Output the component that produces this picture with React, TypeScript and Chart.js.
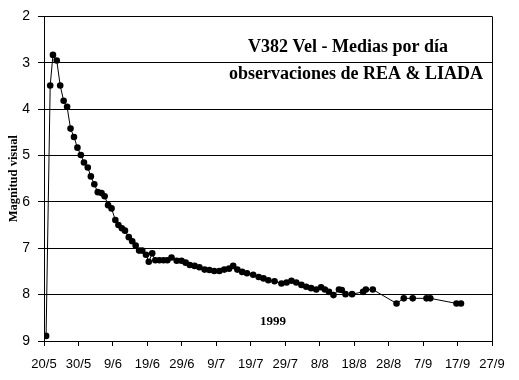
import React, { useEffect, useRef } from "react";
import { Chart, registerables } from "chart.js";

Chart.register(...registerables);

// days after 20 May 1999
const obsDay: number[] = [
  0.6, 1.8, 2.6, 3.7, 4.7, 5.7, 6.7, 7.7, 8.7, 9.7, 10.7, 11.6, 12.7, 13.6, 14.6,
  15.6, 16.7, 17.6, 18.6, 19.6, 20.7, 21.6, 22.6, 23.5, 24.6, 25.6, 26.6, 27.6,
  28.5, 29.6, 30.4, 31.4, 32.3, 33.5, 34.7, 35.8, 37.0, 38.5, 39.9, 41.1, 42.3,
  43.7, 45.1, 46.6, 48.0, 49.4, 50.9, 52.3, 53.7, 54.9, 56.1, 57.5, 58.9, 60.7,
  62.3, 63.7, 65.1, 66.9, 68.9, 70.4, 71.8, 73.2, 74.7, 76.1, 77.5, 79.0, 80.4,
  81.5, 82.7, 84.0, 85.6, 86.4, 87.5, 89.4, 92.6, 93.4, 95.4, 102.3, 104.4,
  107.0, 111.0, 112.1, 119.7, 121.0,
];

const magnitude: number[] = [
  8.89, 3.49, 2.83, 2.95, 3.49, 3.82, 3.95, 4.42, 4.6, 4.83, 4.99, 5.15, 5.26,
  5.45, 5.62, 5.79, 5.81, 5.88, 6.07, 6.14, 6.39, 6.5, 6.57, 6.62, 6.76, 6.85,
  6.94, 7.05, 7.05, 7.14, 7.29, 7.11, 7.26, 7.26, 7.26, 7.26, 7.2, 7.27, 7.27,
  7.31, 7.36, 7.38, 7.41, 7.46, 7.47, 7.49, 7.49, 7.46, 7.44, 7.38, 7.46, 7.51,
  7.54, 7.57, 7.62, 7.65, 7.69, 7.71, 7.76, 7.74, 7.7, 7.74, 7.79, 7.83, 7.86,
  7.89, 7.84, 7.89, 7.94, 8.01, 7.89, 7.9, 7.99, 7.99, 7.94, 7.89, 7.89, 8.19,
  8.08, 8.08, 8.08, 8.08, 8.19, 8.19,
];

const xTickLabels: string[] = [
  "20/5", "30/5", "9/6", "19/6", "29/6", "9/7", "19/7", "29/7", "8/8", "18/8",
  "28/8", "7/9", "17/9", "27/9",
];

const titleLines: string[] = ["V382 Vel - Medias por día", "observaciones de REA & LIADA"];
const yearLabel = "1999";
const yAxisTitle = "Magnitud visual";

const textPlugin = {
  id: "extraText",
  afterDraw(chart: any) {
    const { ctx, chartArea } = chart;
    ctx.save();
    // right border
    ctx.strokeStyle = "#000";
    ctx.lineWidth = 1;
    ctx.beginPath();
    ctx.moveTo(Math.round(chartArea.right) + 0.5, chartArea.top);
    ctx.lineTo(Math.round(chartArea.right) + 0.5, chartArea.bottom);
    ctx.stroke();

    ctx.fillStyle = "#000";
    ctx.textAlign = "center";
    ctx.textBaseline = "alphabetic";
    ctx.font = "bold 18px 'Liberation Serif', serif";
    ctx.fillText(titleLines[0], 348, 52);
    ctx.fillText(titleLines[1], 356, 79);

    ctx.font = "bold 13px 'Liberation Serif', serif";
    ctx.fillText(yearLabel, 273, 325);

    ctx.translate(14, (chartArea.top + chartArea.bottom) / 2);
    ctx.rotate(-Math.PI / 2);
    ctx.textBaseline = "middle";
    ctx.font = "bold 12.5px 'Liberation Serif', serif";
    ctx.fillText(yAxisTitle, 0, 0);
    ctx.restore();
  },
};

export default function App() {
  const ref = useRef<HTMLCanvasElement | null>(null);
  useEffect(() => {
    if (!ref.current) return;
    const chart = new Chart(ref.current, {
      type: "line",
      data: {
        datasets: [
          {
            data: obsDay.map((d, i) => ({ x: d, y: magnitude[i] })),
            borderColor: "#000",
            borderWidth: 1,
            backgroundColor: "#000",
            pointRadius: 3.3,
            pointBorderWidth: 0,
            pointBackgroundColor: "#000",
            tension: 0,
          },
        ],
      },
      plugins: [textPlugin],
      options: {
        animation: false,
        responsive: false,
        devicePixelRatio: 1,
        layout: { padding: { left: 0, right: 27, top: 16, bottom: 0 } },
        plugins: { legend: { display: false }, tooltip: { enabled: false } },
        scales: {
          x: {
            type: "linear",
            min: 0,
            max: 130,
            afterFit: (s: any) => {
              s.height = 39;
            },
            afterBuildTicks: (s: any) => {
              s.ticks = xTickLabels.map((_, i) => ({ value: i * 10 }));
            },
            ticks: {
              stepSize: 10,
              color: "#000",
              padding: 11,
              maxRotation: 0,
              autoSkip: false,
              font: { family: "'Liberation Sans', sans-serif", size: 13 },
              callback: (v: any) => xTickLabels[Math.round(Number(v) / 10)] ?? "",
            },
            grid: {
              display: true,
              drawOnChartArea: false,
              drawTicks: true,
              tickLength: 5,
              color: "#000",
            },
            border: { display: true, color: "#000", width: 1 },
          },
          y: {
            type: "linear",
            reverse: true,
            min: 2,
            max: 9,
            afterFit: (s: any) => {
              s.width = 44;
            },
            ticks: {
              stepSize: 1,
              color: "#000",
              padding: 8,
              font: { family: "'Liberation Sans', sans-serif", size: 14 },
            },
            grid: {
              display: true,
              drawOnChartArea: true,
              drawTicks: true,
              tickLength: 6,
              color: "#000",
              lineWidth: 1,
            },
            border: { display: true, color: "#000", width: 1 },
          },
        },
      },
    });
    return () => chart.destroy();
  }, []);
  return (
    <div style={{ position: "absolute", left: 0, top: 0, width: 519, height: 380, background: "#fff" }}>
      <canvas ref={ref} width={519} height={380} style={{ display: "block" }} />
    </div>
  );
}
